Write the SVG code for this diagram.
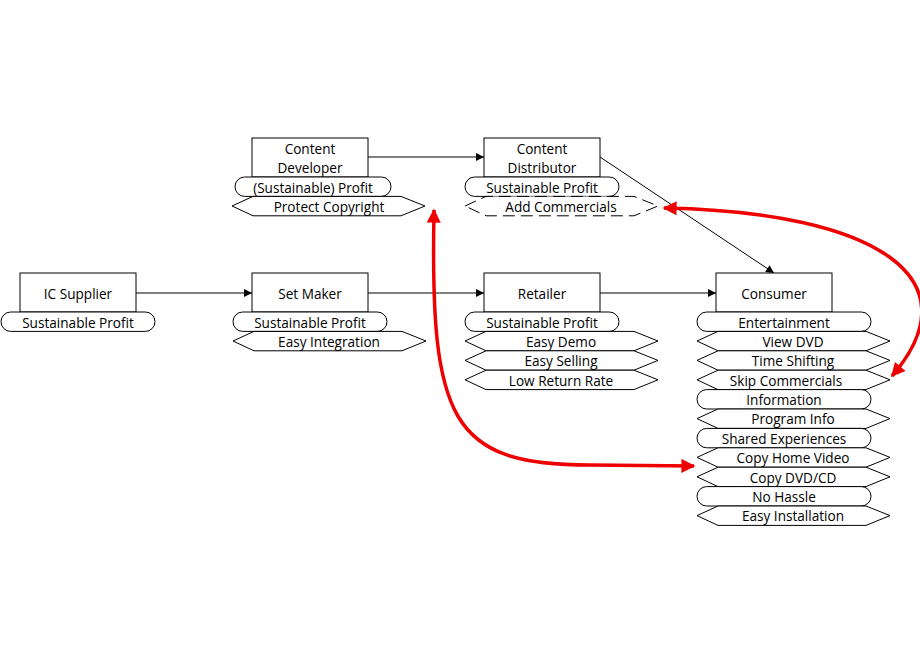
<svg xmlns="http://www.w3.org/2000/svg" width="920" height="660" viewBox="0 0 920 660">
<style>
text{font-family:"Open Sans","Liberation Sans",sans-serif;font-size:13.6px;fill:#000;text-anchor:middle;dominant-baseline:central}
.b{fill:#fff;stroke:#000;stroke-width:1}
.c{fill:none;stroke:#000;stroke-width:1}
.r{fill:none;stroke:#e00;stroke-width:3.5}
</style>
<defs>
<marker id="a" viewBox="0 0 10 10" refX="10" refY="5" markerWidth="12" markerHeight="8" markerUnits="userSpaceOnUse" orient="auto"><path d="M0,0L10,5L0,10z" fill="#000"/></marker>
<marker id="ra" viewBox="0 0 10 10" refX="9" refY="5" markerWidth="5" markerHeight="4" orient="auto-start-reverse"><path d="M0,0L10,5L0,10z" fill="#e00"/></marker>
</defs>
<g id="connectors">
<line x1="368" y1="157" x2="484" y2="157" class="c" marker-end="url(#a)"/>
<line x1="600" y1="157" x2="774" y2="273" class="c" marker-end="url(#a)"/>
<line x1="136" y1="293" x2="252" y2="293" class="c" marker-end="url(#a)"/>
<line x1="368" y1="293" x2="484" y2="293" class="c" marker-end="url(#a)"/>
<line x1="600" y1="293" x2="716" y2="293" class="c" marker-end="url(#a)"/>
<path d="M664,208 C880,212 975,280 892,376" class="r" marker-start="url(#ra)" marker-end="url(#ra)"/>
<path d="M434,210 C430,420 450,465 590,465 L694,466" class="r" marker-start="url(#ra)" marker-end="url(#ra)"/>
</g>
<g id="ic-supplier">
<rect x="20" y="273" width="116" height="39" class="b"/><text x="78" y="293">IC Supplier</text>
<rect x="1" y="312" width="154" height="19.4" rx="9.7" class="b"/><text x="78" y="322">Sustainable Profit</text>
</g>
<g id="set-maker">
<rect x="252" y="273" width="116" height="39" class="b"/><text x="310" y="293">Set Maker</text>
<rect x="233" y="312" width="154" height="19.4" rx="9.7" class="b"/><text x="310" y="322">Sustainable Profit</text>
<path d="M233,341 L254,331.4 H402 L426,341 L402,350.8 H254 Z" class="b"/><text x="329" y="341">Easy Integration</text>
</g>
<g id="retailer">
<rect x="484" y="273" width="116" height="39" class="b"/><text x="542" y="293">Retailer</text>
<rect x="465" y="312" width="154" height="19.4" rx="9.7" class="b"/><text x="542" y="322">Sustainable Profit</text>
<path d="M465,341 L486,331.4 H634 L658,341 L634,350.8 H486 Z" class="b"/><text x="561" y="341">Easy Demo</text>
<path d="M465,360.4 L486,350.8 H634 L658,360.4 L634,370.2 H486 Z" class="b"/><text x="561" y="360">Easy Selling</text>
<path d="M465,379.8 L486,370.2 H634 L658,379.8 L634,389.6 H486 Z" class="b"/><text x="561" y="380">Low Return Rate</text>
</g>
<g id="content-developer">
<rect x="252" y="138" width="116" height="39" class="b"/><text x="310" y="148">Content</text><text x="310" y="167">Developer</text>
<rect x="235" y="177" width="156" height="19.4" rx="9.7" class="b"/><text x="313" y="187">(Sustainable) Profit</text>
<path d="M232,206 L253,196.4 H401 L425,206 L401,215.8 H253 Z" class="b"/><text x="329" y="206">Protect Copyright</text>
</g>
<g id="content-distributor">
<rect x="484" y="138" width="116" height="39" class="b"/><text x="542" y="148">Content</text><text x="542" y="167">Distributor</text>
<rect x="465" y="177" width="154" height="19.4" rx="9.7" class="b"/><text x="542" y="187">Sustainable Profit</text>
<path d="M465,206 L486,196.4 H634 L658,206 L634,215.8 H486 Z" class="b" stroke-dasharray="12,6"/><text x="561" y="206">Add Commercials</text>
</g>
<g id="consumer">
<rect x="716" y="273" width="116" height="39" class="b"/><text x="774" y="293">Consumer</text>
<rect x="697" y="312" width="174" height="19.4" rx="9.7" class="b"/><text x="784" y="322">Entertainment</text>
<path d="M697,341 L718,331.4 H866 L890,341 L866,350.8 H718 Z" class="b"/><text x="793" y="341">View DVD</text>
<path d="M697,360.4 L718,350.8 H866 L890,360.4 L866,370.2 H718 Z" class="b"/><text x="793" y="360">Time Shifting</text>
<path d="M697,379.8 L718,370.2 H866 L890,379.8 L866,389.6 H718 Z" class="b"/><text x="786" y="380">Skip Commercials</text>
<rect x="697" y="389.6" width="174" height="19.4" rx="9.7" class="b"/><text x="784" y="399">Information</text>
<path d="M697,418.6 L718,409 H866 L890,418.6 L866,428.4 H718 Z" class="b"/><text x="793" y="418">Program Info</text>
<rect x="697" y="428.4" width="174" height="19.4" rx="9.7" class="b"/><text x="784" y="438">Shared Experiences</text>
<path d="M697,457.4 L718,447.8 H866 L890,457.4 L866,467.2 H718 Z" class="b"/><text x="793" y="457">Copy Home Video</text>
<path d="M697,476.8 L718,467.2 H866 L890,476.8 L866,486.6 H718 Z" class="b"/><text x="793" y="477">Copy DVD/CD</text>
<rect x="697" y="486.6" width="174" height="19.4" rx="9.7" class="b"/><text x="784" y="496">No Hassle</text>
<path d="M697,515.6 L718,506 H866 L890,515.6 L866,525.4 H718 Z" class="b"/><text x="793" y="515">Easy Installation</text>
</g>
</svg>
